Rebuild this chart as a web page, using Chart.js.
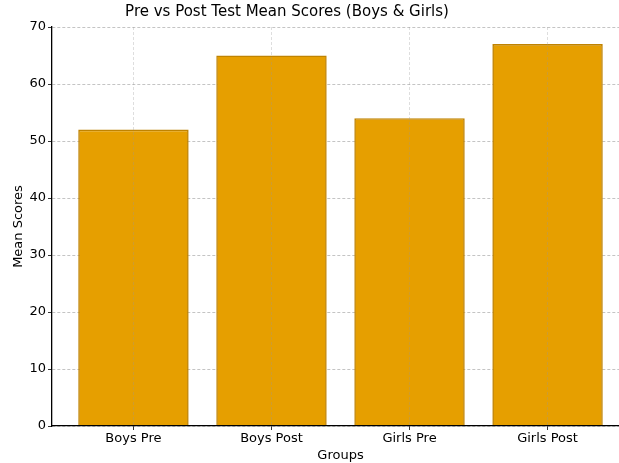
<!DOCTYPE html>
<html>
<head>
<meta charset="utf-8">
<script src="https://cdn.jsdelivr.net/npm/chart.js@4"></script>
<style>
  html, body { margin: 0; padding: 0; background: #fff; overflow: hidden; }
  #wrap { position: relative; width: 640px; height: 463px; }
  #title {
    position: absolute; top: 2px; left: 0; width: 574px; text-align: center;
    font-family: "DejaVu Sans", sans-serif; font-size: 15px; color: #000;
  }
</style>
</head>
<body>
<div id="wrap">
  <div id="title">Pre vs Post Test Mean Scores (Boys &amp; Girls)</div>
  <canvas id="c" width="640" height="463"></canvas>
</div>
<script>
// 그룹별 평균 점수
const groups = ["Boys Pre", "Boys Post", "Girls Pre", "Girls Post"];
const meanScores = [52, 65, 54, 67];
const yTicks = [0, 10, 20, 30, 40, 50, 60, 70];

const font = { family: "DejaVu Sans", size: 13 };

new Chart(document.getElementById("c"), {
  type: "bar",
  data: {
    datasets: [
      {
        data: meanScores.map((v, i) => ({ x: i, y: v })),
        backgroundColor: "#E69F00",
        borderColor: "#C08300",
        borderWidth: 1.6,
        categoryPercentage: 0.8,
        barPercentage: 1,
      },
    ],
  },
  options: {
    responsive: false,
    animation: false,
    layout: { padding: { top: 27, right: 11, left: 11, bottom: 0 } },
    plugins: { legend: { display: false }, tooltip: { enabled: false } },
    scales: {
      x: {
        type: "linear",
        min: -0.59,
        max: 3.59,
        offset: false,
        afterFit: (s) => { s.height = 37; },
        afterBuildTicks: (s) => { s.ticks = groups.map((g, i) => ({ value: i })); },
        ticks: {
          autoSkip: false,
          maxRotation: 0,
          color: "#000",
          font: font,
          padding: 1,
          callback: (v) => groups[v] ?? "",
        },
        // 세로 격자선은 막대 위에 옅게
        grid: {
          z: 1,
          offset: false,
          color: "rgba(150,150,150,0.4)",
          tickColor: "#000",
          tickLength: 4,
          lineWidth: 0.8,
        },
        border: { z: 1, color: "#000", width: 1.3, dash: [3, 2] },
        title: { display: true, text: "Groups", color: "#000", font: font, padding: { top: 0, bottom: 0 } },
      },
      y: {
        min: 0,
        max: 70,
        afterFit: (s) => { s.width = 41; },
        afterBuildTicks: (s) => { s.ticks = yTicks.map((v) => ({ value: v })); },
        ticks: { color: "#000", font: font, padding: 2 },
        grid: {
          color: "#b5b5b5",
          tickColor: "#000",
          tickLength: 4,
          lineWidth: 0.8,
        },
        border: { color: "#000", width: 1.3, dash: [3, 2] },
        title: { display: true, text: "Mean Scores", color: "#000", font: font, padding: { top: 0, bottom: 4 } },
      },
    },
  },
});
</script>
</body>
</html>
